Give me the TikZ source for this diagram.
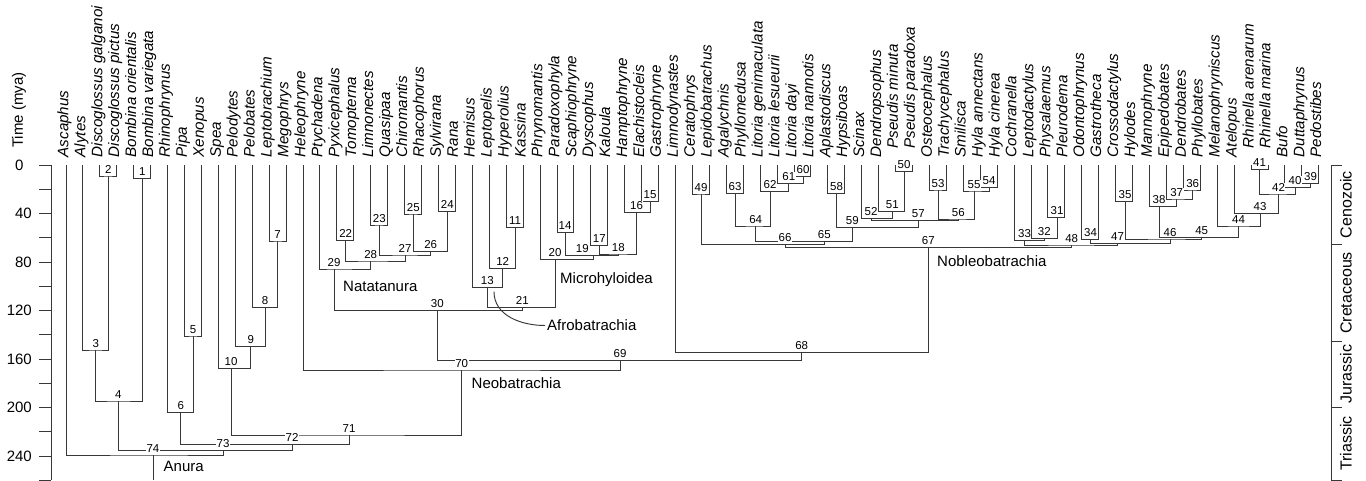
\documentclass[tikz,border=0pt]{standalone}
\usepackage{fontspec}
\setmainfont{Liberation Sans}

\tikzset{
  branch/.style={line width=0.95pt, black!78},
  num/.style={font=\fontsize{11.5}{13}\selectfont, fill=white, inner sep=0.5pt},
  taxon/.style={rotate=90, anchor=west, inner sep=0pt, text height=11pt, text depth=3.2pt,
    font=\fontsize{15.2}{18}\selectfont\itshape},
  clade/.style={anchor=west, inner sep=2pt, font=\fontsize{15}{18}\selectfont},
  axislab/.style={inner sep=1pt, font=\fontsize{15}{18}\selectfont},
  period/.style={rotate=90, inner sep=0pt, font=\fontsize{16}{19}\selectfont},
}

\begin{document}
\begin{tikzpicture}[x=1pt, y=-1pt]
\useasboundingbox (0,0) rectangle (1366,481);

% taxa
\foreach \lab/\dy [count=\i] in {Ascaphus/0, Alytes/0, Discoglossus galganoi/0, Discoglossus pictus/0,
  Bombina orientalis/0, Bombina variegata/0, Rhinophrynus/0, Pipa/0, Xenopus/0, Spea/0, Pelodytes/0,
  Pelobates/0, Leptobrachium/0, Megophrys/0, Heleophryne/0, Ptychadena/0, Pyxicephalus/0, Tomopterna/0,
  Limnonectes/0, Quasipaa/0, Chiromantis/0, Rhacophorus/0, Sylvirana/0, Rana/0, Hemisus/0, Leptopelis/0,
  Hyperolius/0, Kassina/0, Phrynomantis/0, Paradoxophyla/0, Scaphiophryne/0, Dyscophus/0, Kaloula/0,
  Hamptophryne/0, Elachistocleis/0, Gastrophryne/0, Limnodynastes/0, Ceratophrys/0, Lepidobatrachus/0,
  Agalychnis/0, Phyllomedusa/0, Litoria genimaculata/0, Litoria lesueurii/0, Litoria dayi/0,
  Litoria nannotis/0, Aplastodiscus/0, Hypsiboas/0, Scinax/0, Dendropsophus/0, Pseudis minuta/9,
  Pseudis paradoxa/9, Osteocephalus/0, Trachycephalus/0, Smilisca/0, Hyla annectans/0, Hyla cinerea/0,
  Cochranella/0, Leptodactylus/0, Physalaemus/0, Pleurodema/0, Odontophrynus/0, Gastrotheca/0,
  Crossodactylus/0, Hylodes/0, Mannophryne/0, Epipedobates/0, Dendrobates/0, Phyllobates/0,
  Melanophryniscus/0, Atelopus/0, Rhinella arenarum/9, Rhinella marina/9, Bufo/0, Duttaphrynus/0,
  Pedostibes/0} {
  \coordinate (t\i) at ({66+(\i-1)*16.93}, 165);
  \node[taxon] (name\i) at ({64.5+(\i-1)*16.93}, {157.5-\dy}) {\lab};
}

% internal nodes
\coordinate (n1) at (142.2, 178.3);
\coordinate (n2) at (108.3, 176);
\coordinate (n3) at (95.7, 350);
\coordinate (n4) at (118.3, 401);
\coordinate (n5) at (193, 336);
\coordinate (n6) at (180.7, 412.7);
\coordinate (n7) at (277.6, 241);
\coordinate (n8) at (265, 307.7);
\coordinate (n9) at (250.7, 346.7);
\coordinate (n10) at (231, 368.3);
\coordinate (n11) at (515, 227.3);
\coordinate (n12) at (502.7, 268.3);
\coordinate (n13) at (487.3, 287.3);
\coordinate (n14) at (565, 232.7);
\coordinate (n15) at (650, 201.7);
\coordinate (n16) at (636.5, 212.3);
\coordinate (n17) at (599.3, 245.7);
\coordinate (n18) at (618.3, 254);
\coordinate (n19) at (593.3, 255.7);
\coordinate (n20) at (555, 259.3);
\coordinate (n21) at (522.3, 307.3);
\coordinate (n22) at (345.7, 240.7);
\coordinate (n23) at (379.3, 225);
\coordinate (n24) at (447.3, 211.7);
\coordinate (n25) at (413.3, 214);
\coordinate (n26) at (430.7, 251.7);
\coordinate (n27) at (405, 255);
\coordinate (n28) at (370.7, 261);
\coordinate (n29) at (334, 269);
\coordinate (n30) at (437.3, 310.7);
\coordinate (n31) at (1057, 217.7);
\coordinate (n32) at (1044.3, 238.3);
\coordinate (n33) at (1024.5, 240.7);
\coordinate (n34) at (1090.5, 239.3);
\coordinate (n35) at (1125, 201.7);
\coordinate (n36) at (1192.7, 190);
\coordinate (n37) at (1176.7, 199);
\coordinate (n38) at (1159, 206.7);
\coordinate (n39) at (1310.5, 183.3);
\coordinate (n40) at (1295, 187.3);
\coordinate (n41) at (1259.5, 169.3);
\coordinate (n42) at (1278.5, 194);
\coordinate (n43) at (1260, 213.3);
\coordinate (n44) at (1238.5, 226);
\coordinate (n45) at (1201.7, 237.3);
\coordinate (n46) at (1170, 239);
\coordinate (n47) at (1117.5, 243.3);
\coordinate (n48) at (1071.7, 245);
\coordinate (n49) at (701, 194);
\coordinate (n50) at (904, 171.7);
\coordinate (n51) at (892.3, 211.7);
\coordinate (n52) at (871, 218.3);
\coordinate (n53) at (938, 190);
\coordinate (n54) at (989, 187.3);
\coordinate (n55) at (974, 191);
\coordinate (n56) at (958.3, 219);
\coordinate (n57) at (918.3, 220.7);
\coordinate (n58) at (836.5, 193.3);
\coordinate (n59) at (852.3, 227.3);
\coordinate (n60) at (803, 176.7);
\coordinate (n61) at (788.8, 183.3);
\coordinate (n62) at (770, 191.7);
\coordinate (n63) at (735, 193.3);
\coordinate (n64) at (755.7, 226);
\coordinate (n65) at (824.3, 241.7);
\coordinate (n66) at (785, 244.3);
\coordinate (n67) at (928.3, 247.3);
\coordinate (n68) at (801.7, 352.3);
\coordinate (n69) at (620, 360.7);
\coordinate (n70) at (461.7, 370);
\coordinate (n71) at (349, 435);
\coordinate (n72) at (292, 444.3);
\coordinate (n73) at (223, 450.7);
\coordinate (n74) at (153, 455);
\coordinate (root) at (153, 480);

% branches
\foreach \k/\a/\b in {1/t5/t6, 2/t3/t4, 3/t2/n2, 4/n3/n1, 5/t8/t9, 6/t7/n5, 7/t13/t14, 8/t12/n7,
  9/t11/n8, 10/t10/n9, 11/t27/t28, 12/t26/n11, 13/t25/n12, 14/t30/t31, 15/t35/t36, 16/t34/n15,
  17/t32/t33, 18/n17/n16, 19/n14/n18, 20/t29/n19, 21/n13/n20, 22/t17/t18, 23/t19/t20, 24/t23/t24,
  25/t21/t22, 26/n25/n24, 27/n23/n26, 28/n22/n27, 29/t16/n28, 30/n29/n21, 31/t59/t60, 32/t58/n31,
  33/t57/n32, 34/t61/t62, 35/t63/t64, 36/t67/t68, 37/t66/n36, 38/t65/n37, 39/t74/t75, 40/t73/n39,
  41/t71/t72, 42/n41/n40, 43/t70/n42, 44/t69/n43, 45/n38/n44, 46/n35/n45, 47/n34/n46, 48/n33/n47,
  49/t38/t39, 50/t50/t51, 51/t49/n50, 52/t48/n51, 53/t52/t53, 54/t55/t56, 55/t54/n54, 56/n53/n55,
  57/n52/n56, 58/t46/t47, 59/n58/n57, 60/t44/t45, 61/t43/n60, 62/t42/n61, 63/t40/t41, 64/n63/n62,
  65/n64/n59, 66/n49/n65, 67/n66/n48, 68/t37/n67, 69/n30/n68, 70/t15/n69, 71/n10/n70, 72/n6/n71,
  73/n4/n72, 74/t1/n73}
  \draw[branch] (\a) |- (n\k) -| (\b);
\draw[branch] (n74) -- (root);

% node numbers
\foreach \k in {1,...,74} {
  \ifnum\k=19
    \node[num] (lab\k) at ([xshift=-11pt, yshift=6.8pt]n\k) {\k};
  \else
    \node[num] (lab\k) at ([yshift=6.8pt]n\k) {\k};
  \fi
}

% clades
\node[clade] (anura) at (161.5, 466) {Anura};
\node[clade] (neobat) at (469.5, 382.7) {Neobatrachia};
\node[clade] (natat) at (341, 286.7) {Natatanura};
\node[clade] (micro) at (558, 279.3) {Microhyloidea};
\node[clade] (noble) at (935, 261) {Nobleobatrachia};
\node[clade] (afro) at (545, 325.5) {Afrobatrachia};
\coordinate (afrotip) at (494, 291.7);
\draw[branch] (afrotip) to[out=-90, in=180] (afro.west);

% time axis
\draw[branch] (51,165) -- (51,480);
\foreach \t in {0,20,...,260}
  \draw[branch] (39,{165+1.2125*\t}) -- (51,{165+1.2125*\t});
\foreach \t in {40,80,...,240}
  \node[axislab, anchor=east] (tick\t) at (33,{165+1.2125*\t}) {\t};
\node[axislab, anchor=west] (tick0) at (14,165) {0};
\node[axislab, rotate=90] (tlabel) at (19,110) {Time (mya)};

% periods
\draw[branch] (1342,165) -- (1331.5,165) -- (1331.5,480) -- (1342,480);
\foreach \y in {244.4, 341.4, 407}
  \draw[branch] (1331.5,\y) -- (1342,\y);
\foreach \per/\y in {Cenozoic/204.7, Cretaceous/292.9, Jurassic/374.2, Triassic/443.5}
  \node[period] (p\per) at (1346,\y) {\per};

\end{tikzpicture}
\end{document}
